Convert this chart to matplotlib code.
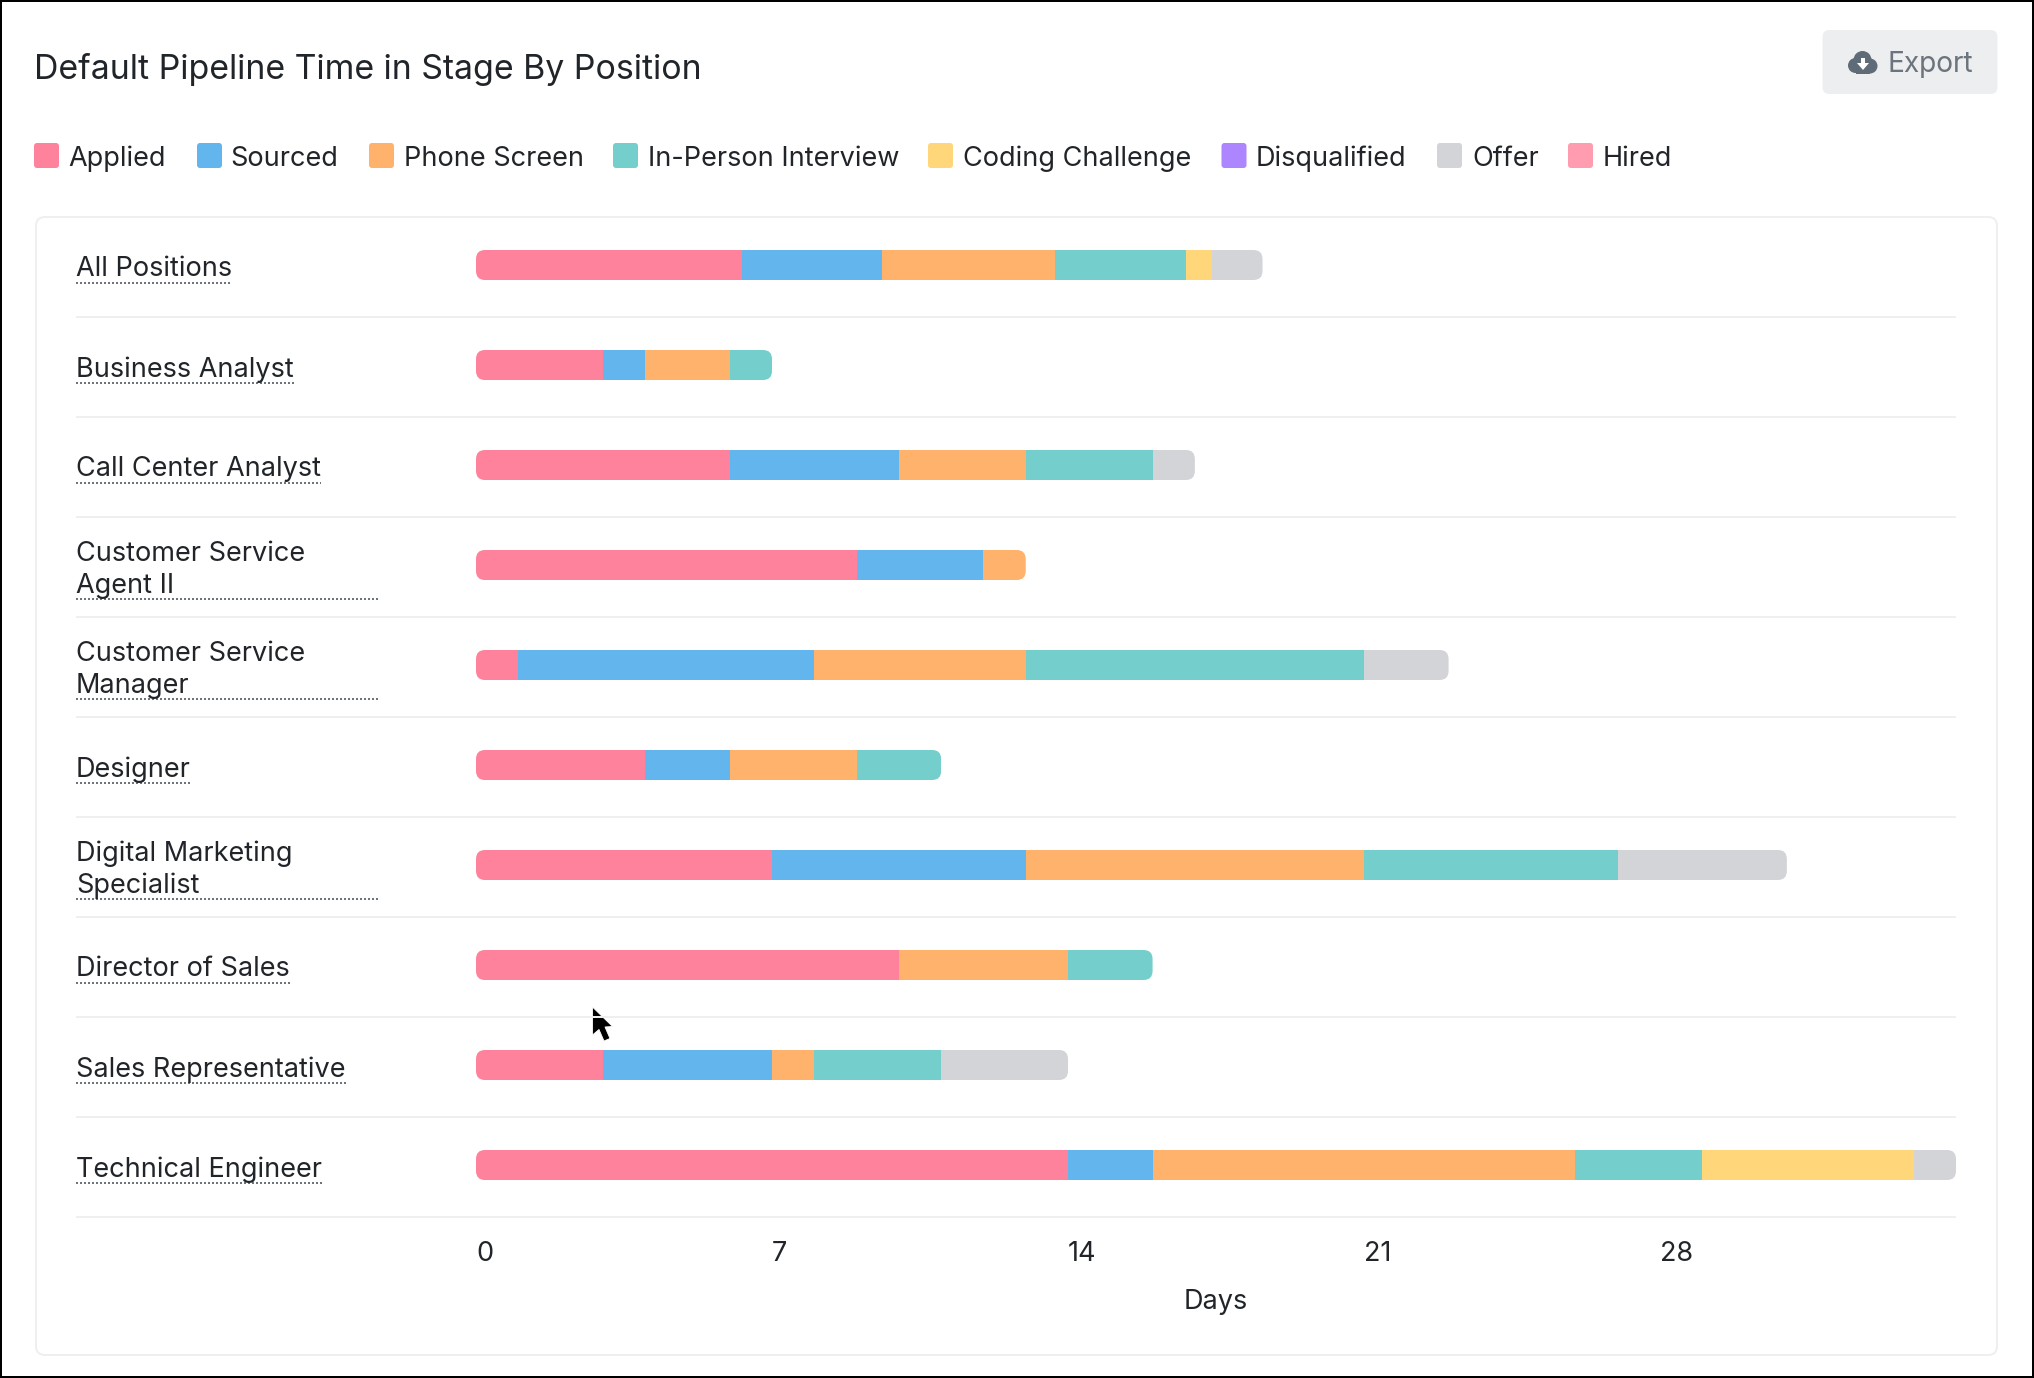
import matplotlib
matplotlib.use('Agg')
import matplotlib.pyplot as plt
from matplotlib.patches import FancyBboxPatch, Rectangle, Circle, Polygon
from matplotlib.transforms import IdentityTransform, Affine2D

plt.rcParams['font.family'] = ['Inter', 'DejaVu Sans']

positions = ['All Positions', 'Business Analyst', 'Call Center Analyst',
             'Customer Service\nAgent II', 'Customer Service\nManager', 'Designer',
             'Digital Marketing\nSpecialist', 'Director of Sales',
             'Sales Representative', 'Technical Engineer']
stages = ['Applied', 'Sourced', 'Phone Screen', 'In-Person Interview',
          'Coding Challenge', 'Disqualified', 'Offer', 'Hired']
colors = ['#FF829D', '#63B5ED', '#FFB26B', '#74CECB',
          '#FFD67A', '#AD85FF', '#D2D4D8', '#FF9CB0']

# days in each stage, one list per stage, same order as positions
applied = [6.3, 3, 6, 9, 1, 4, 7, 10, 3, 14]
sourced = [3.3, 1, 4, 3, 7, 2, 6, 0, 4, 2]
phone_screen = [4.1, 2, 3, 1, 5, 3, 8, 4, 1, 10]
in_person = [3.1, 1, 3, 0, 8, 2, 6, 2, 3, 3]
coding = [0.6, 0, 0, 0, 0, 0, 0, 0, 0, 5]
disqualified = [0, 0, 0, 0, 0, 0, 0, 0, 0, 0]
offer = [1.2, 0, 1, 0, 2, 0, 4, 0, 3, 1]
hired = [0, 0, 0, 0, 0, 0, 0, 0, 0, 0]
series = [applied, sourced, phone_screen, in_person, coding, disqualified, offer, hired]

x_ticks = [0, 7, 14, 21, 28]

W, H = 2034, 1378
TEXT = '#212529'
LINE = '#EFEFF1'
px = 0.72  # points per pixel at dpi 100
FS = 19.5

fig = plt.figure(figsize=(W / 100, H / 100), dpi=100, facecolor='white')

# page furniture, drawn in pixels
bg = fig.add_axes([0, 0, 1, 1], zorder=0)
bg.set_xlim(0, W)
bg.set_ylim(H, 0)
bg.axis('off')

bg.add_patch(FancyBboxPatch((36, 217), 1961, 1138, boxstyle='round,pad=0,rounding_size=9',
                            fc='white', ec=LINE, lw=2 * px))
for i in range(10):
    bg.plot([76, 1956], [317 + 100 * i] * 2, color=LINE, lw=2 * px, solid_capstyle='butt')

bg.text(34, 69.5, 'Default Pipeline Time in Stage By Position', fontsize=24.4,
        color=TEXT, va='center', ha='left')

# legend
swatch_x = [34, 197, 369, 613, 928, 1221.5, 1437, 1568]
label_x = [68, 230.5, 403.5, 647.5, 963, 1256, 1472.5, 1602.5]
for name, c, sx, lx in zip(stages, colors, swatch_x, label_x):
    bg.add_patch(FancyBboxPatch((sx, 143), 25, 25, boxstyle='round,pad=0,rounding_size=3',
                                fc=c, ec='none'))
    bg.text(lx, 158.5, name, fontsize=FS, color=TEXT, va='center', ha='left')

# export button
bg.add_patch(FancyBboxPatch((1822.5, 30), 175, 64, boxstyle='round,pad=0,rounding_size=7',
                            fc='#ECEEF0', ec='none'))
bg.text(1887.5, 64.5, 'Export', fontsize=20.2, color='#6C757D', va='center', ha='left')
icon = '#5F6C77'
for cx, cy, r in [(1855.5, 65.5, 7.5), (1862.5, 60, 9), (1870, 66, 7.5)]:
    bg.add_patch(Circle((cx, cy), r, fc=icon, ec='none'))
bg.add_patch(Rectangle((1856, 62), 14, 11.5, fc=icon, ec='none'))
bg.add_patch(Polygon([(1861, 58), (1865, 58), (1865, 63), (1869, 63), (1863, 70), (1857, 63), (1861, 63)],
                     closed=True, fc='white', ec='none'))

# mouse pointer from the screenshot
bg.add_patch(Polygon([(592.5, 1007), (592.5, 1035), (599, 1029.5), (604, 1041), (610, 1038.5),
                      (605, 1027), (612.5, 1026.5)], closed=True, fc='black', ec='white',
                     lw=0.6, joinstyle='round'))

# outer frame
bg.add_patch(Rectangle((1, 1), W - 2, H - 2, fc='none', ec='black', lw=2 * px))

# the chart itself: x 476..1956 px, y 217..1217 px
ax = fig.add_axes([476 / W, 1 - 1217 / H, 1480 / W, 1000 / H], zorder=1)
ax.patch.set_alpha(0)
ax.set_xlim(0, 35)
ax.set_ylim(9.52, -0.48)
for s in ax.spines.values():
    s.set_visible(False)

rows = list(range(len(positions)))
lefts = [0] * len(positions)
bars = []
for vals, c in zip(series, colors):
    bars.append(ax.barh(rows, vals, height=0.3, left=lefts, color=c, linewidth=0))
    lefts = [a + b for a, b in zip(lefts, vals)]

# round the ends of each stacked bar
for row, total in zip(rows, lefts):
    (x0, y0), (x1, y1) = ax.transData.transform([(0, row + 0.15), (total, row - 0.15)])
    clip = FancyBboxPatch((x0, y0), x1 - x0, y1 - y0, boxstyle='round,pad=0,rounding_size=9',
                          transform=IdentityTransform(), fc='none', ec='none')
    fig.add_artist(clip)
    clip.set_visible(False)
    for container in bars:
        container[row].set_clip_path(clip)

ax.set_xticks(x_ticks)
ax.set_xticklabels([str(t) for t in x_ticks], ha='left')
ax.tick_params(axis='x', length=0, pad=24 * px, labelsize=FS, labelcolor=TEXT)
ax.set_xlabel('Days', fontsize=FS, color=TEXT, labelpad=22 * px)

ax.set_yticks(rows)
ax.set_yticklabels(positions, ha='left', linespacing=1.3)
ax.tick_params(axis='y', length=0, pad=400 * px, labelsize=FS, labelcolor=TEXT)
for label, name in zip(ax.get_yticklabels(), positions):
    dy = 1.3 if '\n' in name else -1.3
    label.set_transform(label.get_transform() + Affine2D().translate(0, dy))

# dotted underlines below the position names
fig.canvas.draw()
for label, row, name in zip(ax.get_yticklabels(), rows, positions):
    ext = label.get_window_extent()
    two_lines = '\n' in name
    y = 265 + 100 * row + (34 if two_lines else 18)
    x_end = 378 if two_lines else ext.x1
    bg.plot([76, x_end], [y, y], color='#6C757D', lw=2 * px, dashes=(1, 1), dash_capstyle='butt')

fig.savefig('out.png', dpi=100)
